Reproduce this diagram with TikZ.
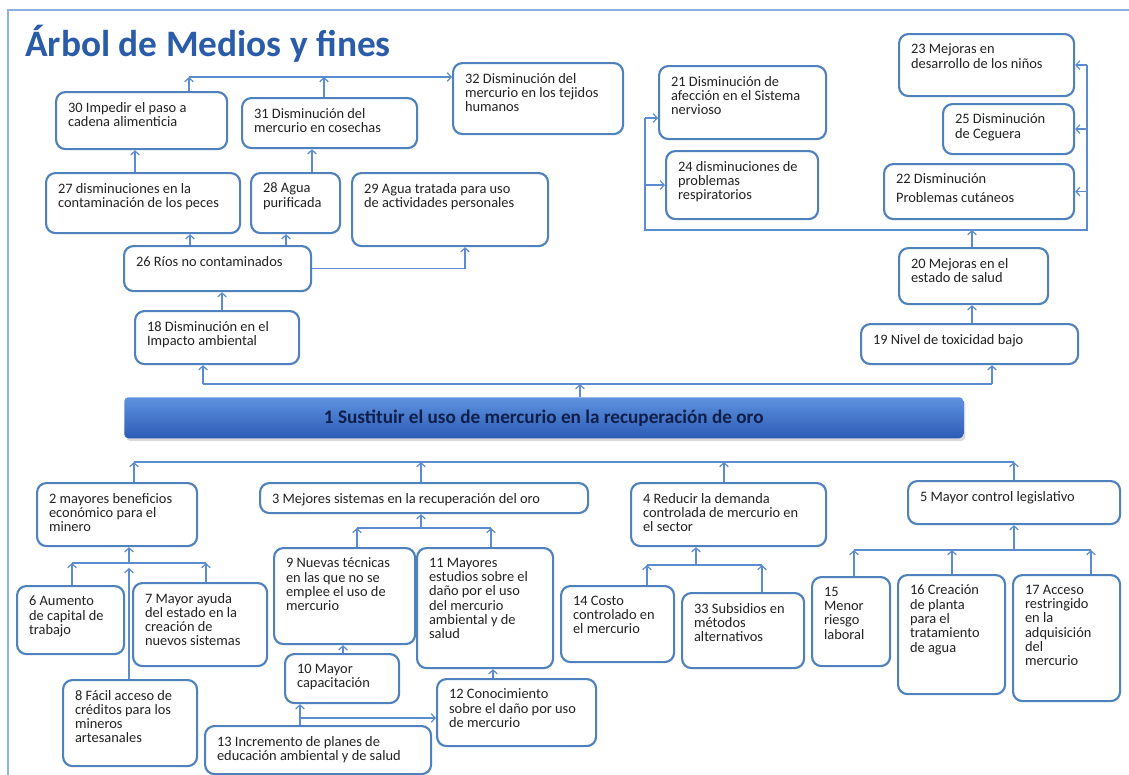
\documentclass[tikz,border=0pt]{standalone}
\usepackage{fontspec}
\setmainfont{Carlito}
\usetikzlibrary{arrows.meta,shadows}

\newdimen\pxu \pxu=0.75pt
\definecolor{azulborde}{HTML}{4F81BD}
\definecolor{azullinea}{HTML}{5B8BD0}
\definecolor{azulmarco}{HTML}{8DB0E0}
\definecolor{azultitulo}{HTML}{2A5CAA}
\definecolor{barraarriba}{HTML}{5E92DE}
\definecolor{barraabajo}{HTML}{2C5BB6}
\definecolor{textobarra}{HTML}{0F1F4A}
\definecolor{texto}{HTML}{222222}

% caja: nombre, x, y, ancho, alto, texto (en px)
\newcommand{\caja}[6]{%
  \node[caja] (#1) at (#2,#3)
    {\parbox[t][\dimexpr#5\pxu-20\pxu\relax][t]{\dimexpr#4\pxu-24\pxu\relax}{\raggedright #6}};}

\begin{document}
\begin{tikzpicture}[x=0.75pt, y=-0.75pt,
    caja/.style={draw=azulborde, line width=1.6pt, rounded corners=7pt, fill=white,
      anchor=north west, inner xsep=12\pxu, inner ysep=10\pxu, text=texto,
      font=\fontsize{10.8}{10.7}\selectfont},
    barra/.style={anchor=north west, rounded corners=3pt, top color=barraarriba,
      bottom color=barraabajo, drop shadow={opacity=0.3, shadow xshift=1.5pt, shadow yshift=-2pt},
      text=textobarra, font=\bfseries\fontsize{14.4}{16}\selectfont},
    titulo/.style={text=azultitulo, font=\bfseries\fontsize{28}{34}\selectfont, inner sep=0pt},
    linea/.style={draw=azullinea, line width=0.9pt},
    flecha/.style={linea, -{Straight Barb[length=3pt,width=6.5pt]}}]
\useasboundingbox (0,0) rectangle (1129,775);

% Marco y titulo
\draw[azulmarco, line width=1pt] (8,775) -- (8,10) -- (1129,10);
\node[titulo, anchor=base west] (titulo) at (25,56) {Árbol de Medios y fines};

% Objetivo central
\node[barra, minimum width=839\pxu, minimum height=41\pxu] (n1) at (124,397)
  {1 Sustituir el uso de mercurio en la recuperación de oro};

% Fines
\caja{n30}{55}{91}{171}{57}{30 Impedir el paso a\\cadena alimenticia}
\caja{n31}{241}{97}{175}{50}{31 Disminución del\\mercurio en cosechas}
\caja{n32}{452}{62}{170}{71}{32 Disminución del\\mercurio en los tejidos\\humanos}
\caja{n27}{45}{172}{194}{60}{27 disminuciones en la\\contaminación de los peces}
\caja{n28}{250}{172}{89}{60}{28 Agua\\purificada}
\caja{n29}{351}{172}{196}{73}{29 Agua tratada para uso\\de actividades personales}
\caja{n26}{123}{245}{187}{45}{26 Ríos no contaminados}
\caja{n18}{134}{310}{164}{53}{18 Disminución en el\\Impacto ambiental}
\caja{n19}{860}{323}{217}{40}{19 Nivel de toxicidad bajo}
\caja{n20}{898}{247}{149}{56}{20 Mejoras en el\\estado de salud}
\caja{n21}{658}{65}{167}{73}{21 Disminución de\\afección en el Sistema\\nervioso}
\caja{n24}{665}{150}{152}{68}{24 disminuciones de\\problemas\\respiratorios}
\caja{n23}{898}{33}{175}{62}{23 Mejoras en\\desarrollo de los niños}
\caja{n25}{942}{103}{131}{50}{25 Disminución\\de Ceguera}
\caja{n22}{883}{163}{190}{55}{22 Disminución\\[3pt]Problemas cutáneos}

% Medios
\caja{n2}{36}{482}{160}{63}{2 mayores beneficios\\económico para el\\minero}
\caja{n3}{259}{482}{328}{30}{3 Mejores sistemas en la recuperación del oro}
\caja{n4}{630}{482}{195}{63}{4 Reducir la demanda\\controlada de mercurio en\\el sector}
\caja{n5}{907}{480}{212}{43}{5 Mayor control legislativo}
\caja{n6}{16}{585}{107}{68}{6 Aumento\\de capital de\\trabajo}
\caja{n7}{132}{582}{134}{83}{7 Mayor ayuda\\del estado en la\\creación de\\nuevos sistemas}
\caja{n8}{62}{679}{134}{86}{8 Fácil acceso de\\créditos para los\\mineros\\artesanales}
\caja{n9}{273}{547}{141}{96}{9 Nuevas técnicas\\en las que no se\\emplee el uso de\\mercurio}
\caja{n11}{416}{547}{136}{120}{11 Mayores\\estudios sobre el\\daño por el uso\\del mercurio\\ambiental y de\\salud}
\caja{n10}{284}{653}{114}{49}{10 Mayor\\capacitación}
\caja{n12}{436}{678}{159}{67}{12 Conocimiento\\sobre el daño por uso\\de mercurio}
\caja{n13}{204}{725}{226}{48}{13 Incremento de planes de\\educación ambiental y de salud}
\caja{n14}{560}{585}{113}{76}{14 Costo\\controlado en\\el mercurio}
\caja{n33}{681}{592}{122}{75}{33 Subsidios en\\métodos\\alternativos}
\caja{n15}{811}{576}{78}{89}{15\\Menor\\riesgo\\laboral}
\caja{n16}{897}{574}{107}{119}{16 Creación\\de planta\\para el\\tratamiento\\de agua}
\caja{n17}{1012}{574}{107}{126}{17 Acceso\\restringido\\en la\\adquisición\\del\\mercurio}

% Conexiones de fines
\coordinate (lsup) at (580,384);
\draw[flecha] (lsup |- n1.north) -- (lsup);
\draw[linea] (203,0 |- lsup) -- (992,0 |- lsup);
\foreach \x/\n in {203/n18, 992/n19} \draw[flecha] (\x,0 |- lsup) -- (\x,0 |- \n.south);
\draw[flecha] (222,0 |- n18.north) -- (222,0 |- n26.south);
\foreach \x/\n in {190/n27, 286/n28} \draw[flecha] (\x,0 |- n26.north) -- (\x,0 |- \n.south);
\draw[flecha] (n26.east) -| (465,0 |- n29.south);
\foreach \x/\n/\m in {135/n27/n30, 312/n28/n31} \draw[flecha] (\x,0 |- \n.north) -- (\x,0 |- \m.south);
\coordinate (l32) at (189,77);
\draw[flecha] (l32 |- n30.north) -- (l32);
\draw[flecha] (324,0 |- n31.north) -- (324,0 |- l32);
\draw[flecha] (l32) -- (n32.west |- l32);

% Salud
\draw[flecha] (972,0 |- n19.north) -- (972,0 |- n20.south);
\coordinate (li) at (645,230);
\coordinate (ld) at (1087,230);
\draw[flecha] (972,0 |- n20.north) -- (972,0 |- li);
\draw[linea] (li |- 0,118) -- (li) -- (ld) -- (ld |- n23.east);
\draw[flecha] (li |- 0,118) -- (n21.west |- 0,118);
\draw[flecha] (li |- n24.west) -- (n24.west);
\foreach \n in {n23, n25, n22} \draw[flecha] (ld |- \n.east) -- (\n.east);

% Conexiones de medios
\coordinate (linf) at (0,462);
\draw[linea] (134,0 |- linf) -- (1014,0 |- linf);
\foreach \x/\n in {134/n2, 421/n3, 724/n4, 1014/n5} \draw[flecha] (\x,0 |- \n.north) -- (\x,0 |- linf);

\coordinate (b2) at (129,563);
\draw[linea] (72,0 |- b2) -- (206,0 |- b2);
\foreach \x/\n in {72/n6, 206/n7} \draw[flecha] (\x,0 |- \n.north) -- (\x,0 |- b2);
\draw[flecha] (b2) -- (b2 |- n2.south);
\draw[flecha] (b2 |- n8.north) -- ([yshift=-5\pxu]b2);

\coordinate (b3) at (421,528);
\draw[linea] (357,0 |- b3) -- (491,0 |- b3);
\foreach \x/\n in {357/n9, 491/n11} \draw[flecha] (\x,0 |- \n.north) -- (\x,0 |- b3);
\draw[flecha] (b3) -- (b3 |- n3.south);
\draw[flecha] (343,0 |- n10.north) -- (343,0 |- n9.south);
\draw[flecha] (493,0 |- n12.north) -- (493,0 |- n11.south);
\coordinate (b13) at (300,718);
\draw[flecha] (b13 |- n13.north) -- (b13 |- n10.south);
\draw[flecha] (b13) -- (n12.west |- b13);

\coordinate (b4) at (696,565);
\draw[linea] (647,0 |- b4) -- (762,0 |- b4);
\foreach \x/\n in {647/n14, 762/n33} \draw[flecha] (\x,0 |- \n.north) -- (\x,0 |- b4);
\draw[flecha] (b4) -- (b4 |- n4.south);

\coordinate (b5) at (1014,550);
\draw[linea] (854,0 |- b5) -- (1091,0 |- b5);
\foreach \x/\n in {854/n15, 952/n16, 1091/n17} \draw[flecha] (\x,0 |- \n.north) -- (\x,0 |- b5);
\draw[flecha] (b5) -- (b5 |- n5.south);
\end{tikzpicture}
\end{document}
